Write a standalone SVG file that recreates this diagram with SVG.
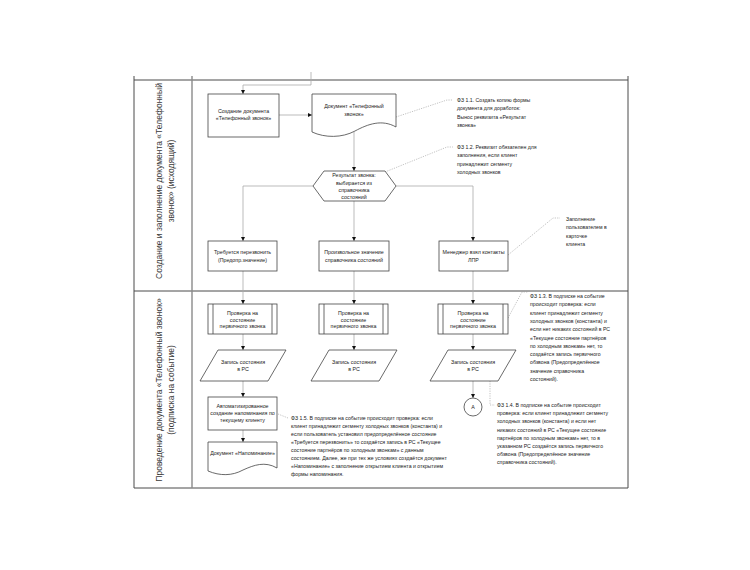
<svg xmlns="http://www.w3.org/2000/svg" width="750" height="570" viewBox="0 0 750 570">
<style>
.frame{fill:none;stroke:#4a4a4a;stroke-width:1}
.div{fill:none;stroke:#8a8a8a;stroke-width:1.4}
.box{fill:#fff;stroke:#444;stroke-width:0.8}
.con{fill:none;stroke:#aaa;stroke-width:0.8}
.call{fill:none;stroke:#999;stroke-width:0.6;stroke-dasharray:1.2 1.2}
text{font-family:"Liberation Sans",Arial,sans-serif;fill:#222}
.t{font-size:5.3px;text-anchor:middle}
.n{font-size:5.2px}
.lane{font-size:8.5px;text-anchor:middle;fill:#3a3a3a}
</style>
<defs>
<marker id="ah" viewBox="0 0 6 6" refX="6" refY="3" markerWidth="4.5" markerHeight="4.5" orient="auto" markerUnits="userSpaceOnUse">
<path d="M0,0 L6,3 L0,6 Z" fill="#111"/>
</marker>
</defs>
<rect width="750" height="570" fill="#fff"/>
<g id="frame">
<line class="frame" x1="134" y1="80" x2="628" y2="80"/>
<line class="frame" x1="134" y1="76" x2="134" y2="488"/>
<line class="frame" x1="628" y1="76" x2="628" y2="488"/>
<line class="frame" x1="134" y1="488" x2="628" y2="488"/>
<line class="frame" x1="134" y1="291" x2="628" y2="291"/>
<line class="div" x1="192" y1="76" x2="192" y2="488"/>
</g>
<g id="lane1">
<text class="lane" transform="translate(162,181) rotate(-90)"><tspan x="0" y="0">Создание и заполнение документа «Телефонный</tspan><tspan x="0" y="11.5">звонок» (исходящий)</tspan></text>
</g>
<g id="lane2">
<text class="lane" transform="translate(162,390) rotate(-90)"><tspan x="0" y="0">Проведение документа «Телефонный звонок»</tspan><tspan x="0" y="11.5">(подписка на событие)</tspan></text>
</g>
<g id="connectors">
<polyline class="con" points="311,72 311,85 243,85 243,94" marker-end="url(#ah)"/>
<line class="con" x1="279" y1="115" x2="312" y2="115" marker-end="url(#ah)"/>
<line class="con" x1="354" y1="132" x2="354" y2="171" marker-end="url(#ah)"/>
<polyline class="con" points="313,186 243,186 243,241" marker-end="url(#ah)"/>
<line class="con" x1="354" y1="201" x2="354" y2="241" marker-end="url(#ah)"/>
<polyline class="con" points="396,186 473,186 473,241" marker-end="url(#ah)"/>
<line class="con" x1="243" y1="271" x2="243" y2="304" marker-end="url(#ah)"/>
<line class="con" x1="354" y1="271" x2="354" y2="304" marker-end="url(#ah)"/>
<line class="con" x1="473" y1="271" x2="473" y2="304" marker-end="url(#ah)"/>
<line class="con" x1="243" y1="334" x2="243" y2="350" marker-end="url(#ah)"/>
<line class="con" x1="354" y1="334" x2="354" y2="350" marker-end="url(#ah)"/>
<line class="con" x1="473" y1="334" x2="473" y2="350" marker-end="url(#ah)"/>
<line class="con" x1="243" y1="381" x2="243" y2="397" marker-end="url(#ah)"/>
<line class="con" x1="243" y1="430" x2="243" y2="442" marker-end="url(#ah)"/>
<line class="con" x1="473" y1="381" x2="473" y2="398" marker-end="url(#ah)"/>
</g>
<g id="callouts">
<polyline class="call" points="396,117 447,100 453,100"/>
<polyline class="call" points="385,172 447,147 453,147"/>
<polyline class="call" points="508,255 553,218 560,218"/>
<polyline class="call" points="508,318 522,292 528,292"/>
<polyline class="call" points="490,381 490,405 495,405"/>
<polyline class="call" points="278,414 288,418"/>
</g>
<g id="n1">
<rect class="box" x="208" y="94" width="71" height="43"/>
<text class="t" x="243.5" y="113">Создание документа</text>
<text class="t" x="243.5" y="120">«Телефонный звонок»</text>
</g>
<g id="n2">
<path class="box" d="M312,94 H396 V127 C382,119 368,124 355,131 C342,138 325,138 312,132 Z"/>
<text class="t" x="354" y="108">Документ «Телефонный</text>
<text class="t" x="354" y="115.5">звонок»</text>
</g>
<g id="n3">
<polygon class="box" points="313,186 324,171 385,171 396,186 385,201 324,201"/>
<text class="t" x="354" y="177">Результат звонка:</text>
<text class="t" x="354" y="184.5">выбирается из</text>
<text class="t" x="354" y="192">справочника</text>
<text class="t" x="354" y="199">состояний</text>
</g>
<g id="n4">
<rect class="box" x="208" y="241" width="69" height="30"/>
<text class="t" x="242.5" y="254">Требуется перезвонить</text>
<text class="t" x="242.5" y="261.5">(Предопр.значение)</text>
</g>
<g id="n5">
<rect class="box" x="319" y="241" width="70" height="30"/>
<text class="t" x="354" y="254">Произвольное значение</text>
<text class="t" x="354" y="261.5">справочника состояний</text>
</g>
<g id="n6">
<rect class="box" x="439" y="241" width="69" height="30"/>
<text class="t" x="473.5" y="254">Менеджер взял контакты</text>
<text class="t" x="473.5" y="261.5">ЛПР</text>
</g>
<g id="n7">
<rect class="box" x="208" y="304" width="69" height="30"/>
<line class="box" x1="213" y1="304" x2="213" y2="334"/>
<line class="box" x1="272" y1="304" x2="272" y2="334"/>
<text class="t" x="242.5" y="315">Проверка на</text>
<text class="t" x="242.5" y="321.5">состояние</text>
<text class="t" x="242.5" y="328">первичного звонка</text>
</g>
<g id="n8">
<rect class="box" x="319" y="304" width="69" height="30"/>
<line class="box" x1="324" y1="304" x2="324" y2="334"/>
<line class="box" x1="383" y1="304" x2="383" y2="334"/>
<text class="t" x="353.5" y="315">Проверка на</text>
<text class="t" x="353.5" y="321.5">состояние</text>
<text class="t" x="353.5" y="328">первичного звонка</text>
</g>
<g id="n9">
<rect class="box" x="438" y="304" width="70" height="30"/>
<line class="box" x1="443" y1="304" x2="443" y2="334"/>
<line class="box" x1="503" y1="304" x2="503" y2="334"/>
<text class="t" x="473" y="315">Проверка на</text>
<text class="t" x="473" y="321.5">состояние</text>
<text class="t" x="473" y="328">первичного звонка</text>
</g>
<g id="n10">
<polygon class="box" points="218,350 286,350 268,381 200,381"/>
<text class="t" x="243" y="364">Запись состояния</text>
<text class="t" x="243" y="371">в РС</text>
</g>
<g id="n11">
<polygon class="box" points="329,350 397,350 379,381 311,381"/>
<text class="t" x="354" y="364">Запись состояния</text>
<text class="t" x="354" y="371">в РС</text>
</g>
<g id="n12">
<polygon class="box" points="448,350 516,350 498,381 430,381"/>
<text class="t" x="473" y="364">Запись состояния</text>
<text class="t" x="473" y="371">в РС</text>
</g>
<g id="n13">
<rect class="box" x="208" y="397" width="69" height="33"/>
<text class="t" x="242.5" y="408">Автоматизированное</text>
<text class="t" x="242.5" y="415">создание напоминания по</text>
<text class="t" x="242.5" y="422">текущему клиенту</text>
</g>
<g id="n14">
<path class="box" d="M208,442 H277 V468 C265,461 254,465 243,470 C232,476 220,476 208,471 Z"/>
<text class="t" x="242.5" y="455">Документ «Напоминание»</text>
</g>
<g id="n15">
<circle class="box" cx="473" cy="407" r="9"/>
<text class="t" x="473" y="409">А</text>
</g>
<g id="note1">
<text class="n" x="457" y="102">ФЗ 1.1. Создать копию формы</text>
<text class="n" x="457" y="110.3">документа для доработок:</text>
<text class="n" x="457" y="118.6">Вынос реквизита «Результат</text>
<text class="n" x="457" y="126.9">звонка»</text>
</g>
<g id="note2">
<text class="n" x="457" y="149">ФЗ 1.2. Реквизит обязателен для</text>
<text class="n" x="457" y="157.3">заполнения, если клиент</text>
<text class="n" x="457" y="165.6">принадлежит сегменту</text>
<text class="n" x="457" y="173.9">холодных звонков</text>
</g>
<g id="note3">
<text class="n" x="566" y="221">Заполнение</text>
<text class="n" x="566" y="229.3">пользователем в</text>
<text class="n" x="566" y="237.6">карточке</text>
<text class="n" x="566" y="245.9">клиента</text>
</g>
<g id="note4">
<text class="n" x="530" y="298">ФЗ 1.3. В подписке на событие</text>
<text class="n" x="530" y="306.3">происходит проверка: если</text>
<text class="n" x="530" y="314.6">клиент принадлежит сегменту</text>
<text class="n" x="530" y="322.9">холодных звонков (константа) и</text>
<text class="n" x="530" y="331.2">если нет никаких состояний в РС</text>
<text class="n" x="530" y="339.5">«Текущее состояние партнёров</text>
<text class="n" x="530" y="347.8">по холодным звонкам» нет, то</text>
<text class="n" x="530" y="356.1">создаётся запись первичного</text>
<text class="n" x="530" y="364.4">обзвона (Предопределённое</text>
<text class="n" x="530" y="372.7">значение справочника</text>
<text class="n" x="530" y="381">состояний).</text>
</g>
<g id="note5">
<text class="n" x="497" y="407">ФЗ 1.4. В подписке на событие происходит</text>
<text class="n" x="497" y="415.2">проверка: если клиент принадлежит сегменту</text>
<text class="n" x="497" y="423.4">холодных звонков (константа) и если нет</text>
<text class="n" x="497" y="431.6">никаких состояний в РС «Текущее состояние</text>
<text class="n" x="497" y="439.8">партнёров по холодным звонкам» нет, то  в</text>
<text class="n" x="497" y="448">указанном РС создаётся запись первичного</text>
<text class="n" x="497" y="456.2">обзвона (Предопределённое значение</text>
<text class="n" x="497" y="464.4">справочника состояний).</text>
</g>
<g id="note6">
<text class="n" x="291" y="420">ФЗ 1.5. В подписке на событие происходит проверка: если</text>
<text class="n" x="291" y="428">клиент принадлежит сегменту холодных звонков (константа) и</text>
<text class="n" x="291" y="436">если пользователь установил предопределённое состояние</text>
<text class="n" x="291" y="444">«Требуется перезвонить» то создаётся запись в РС «Текущее</text>
<text class="n" x="291" y="452">состояние партнёров по холодным звонкам» с данным</text>
<text class="n" x="291" y="460">состоянием. Далее, же при тех же условиях создаётся документ</text>
<text class="n" x="291" y="468">«Напоминание» с заполнение открытием клиента и открытием</text>
<text class="n" x="291" y="476">формы напоминания.</text>
</g>
</svg>
